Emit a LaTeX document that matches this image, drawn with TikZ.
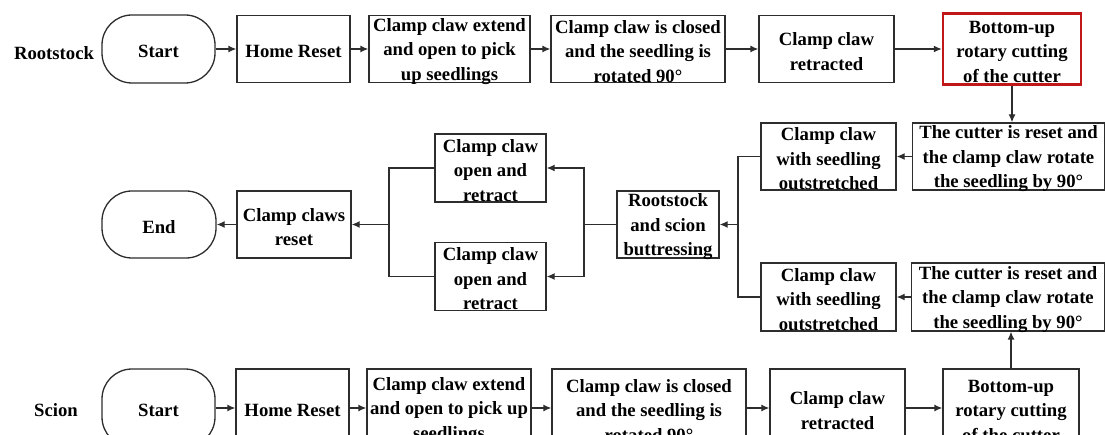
\documentclass[tikz,border=0pt]{standalone}
\usepackage{fontspec}
\setmainfont{Liberation Serif}
\usetikzlibrary{arrows.meta}
\definecolor{boxred}{RGB}{192,24,24}
\definecolor{linegray}{RGB}{45,45,45}
\newcommand\up{\rule{0pt}{17.8pt}}
\begin{document}
\begin{tikzpicture}[x=1pt,y=-1pt,
  every node/.style={font=\fontsize{18.7}{24.5}\selectfont\bfseries, align=center, inner sep=0pt},
  box/.style={draw=linegray, line width=1.3pt, minimum height=67pt, inner ysep=-2.5pt},
  term/.style={box, rounded corners=30pt, minimum width=113pt, minimum height=68pt},
  redbox/.style={draw=boxred, line width=2.5pt, minimum height=71pt, inner ysep=-2.5pt},
  flow/.style={draw=linegray, line width=1.3pt, -{Latex[length=8pt,width=7pt]}},
  wire/.style={draw=linegray, line width=1.3pt}]
\clip (0,0) rectangle (1105,435);
% Rootstock row
\node (rslbl) at (54,51) {\up Rootstock};
\node[term] (rsstart) at (158.5,49) {\up Start};
\node[box, minimum width=113pt] (rshome) at (293.5,49) {\up Home Reset};
\node[box, minimum width=161pt] (rsext) at (449.5,49) {\up Clamp claw extend\\and open to pick\\up seedlings};
\node[box, minimum width=174pt] (rsclo) at (638,49) {\up Clamp claw is closed\\and the seedling is\\rotated 90°};
\node[box, minimum width=135pt] (rsret) at (826.5,49) {\up Clamp claw\\retracted};
\node[redbox, minimum width=138pt] (rscut) at (1012,49) {\up Bottom-up\\rotary cutting\\of the cutter};
% second row
\node[box, minimum width=192pt] (rsrst) at (1008.5,156.5) {\up The cutter is reset and\\the clamp claw rotate\\the seedling by 90°};
\node[box, minimum width=135pt] (rsout) at (828.5,156.5) {\up Clamp claw\\with seedling\\outstretched};
% middle
\node[box, minimum width=102pt] (butt) at (668,224.5) {\up Rootstock\\and scion\\buttressing};
\node[box, minimum width=111pt, minimum height=68pt] (open1) at (490.5,168) {\up Clamp claw\\open and\\retract};
\node[box, minimum width=111pt, minimum height=68pt] (open2) at (490.5,276.5) {\up Clamp claw\\open and\\retract};
\node[box, minimum width=114pt] (crst) at (294,224.5) {\up Clamp claws\\reset};
\node[term, minimum width=114pt, minimum height=67pt] (endn) at (159,224.5) {\up End};
% fourth row
\node[box, minimum width=135pt, minimum height=68pt] (scout) at (828.5,297) {\up Clamp claw\\with seedling\\outstretched};
\node[box, minimum width=193pt, minimum height=68pt] (scrst) at (1008,297) {\up The cutter is reset and\\the clamp claw rotate\\the seedling by 90°};
% Scion row
\node (sclbl) at (56,408) {\up Scion};
\node[term, minimum height=78pt] (scstart) at (158.5,408) {\up Start};
\node[box, minimum width=113pt, minimum height=78pt] (schome) at (292.5,408) {\up Home Reset};
\node[box, minimum width=164pt, minimum height=78pt] (scext) at (449,408) {\up Clamp claw extend\\and open to pick up\\seedlings};
\node[box, minimum width=194pt, minimum height=78pt] (scclo) at (649,408) {\up Clamp claw is closed\\and the seedling is\\rotated 90°};
\node[box, minimum width=135pt, minimum height=78pt] (scret) at (837.5,408) {\up Clamp claw\\retracted};
\node[box, minimum width=136pt, minimum height=78pt] (sccut) at (1011,408) {\up Bottom-up\\rotary cutting\\of the cutter};
% connectors, rootstock row
\draw[flow] (rsstart) -- (rshome);
\draw[flow] (rshome) -- (rsext);
\draw[flow] (rsext) -- (rsclo);
\draw[flow] (rsclo) -- (rsret);
\draw[flow] (rsret) -- (rscut);
\draw[flow] (rscut.south) -- (rscut.south |- rsrst.north);
\draw[flow] (rsrst) -- (rsout);
% junction right
\coordinate (jr) at (738,224.5);
\draw[wire] (rsout.west) -| (jr) |- (scout.west);
\draw[flow] (jr) -- (butt);
\coordinate (jm) at (584,224.5);
\draw[wire] (butt) -- (jm);
\draw[flow] (jm) |- (open1);
\draw[flow] (jm) |- (open2);
\coordinate (jl) at (389,224.5);
\draw[wire] (open1.west) -| (jl) |- (open2.west);
\draw[flow] (jl) -- (crst);
\draw[flow] (crst) -- (endn);
% scion row
\draw[flow] (scstart) -- (schome);
\draw[flow] (schome) -- (scext);
\draw[flow] (scext) -- (scclo);
\draw[flow] (scclo) -- (scret);
\draw[flow] (scret) -- (sccut);
\draw[flow] (sccut.north) -- (sccut.north |- scrst.south);
\draw[flow] (scrst) -- (scout);
\end{tikzpicture}
\end{document}
